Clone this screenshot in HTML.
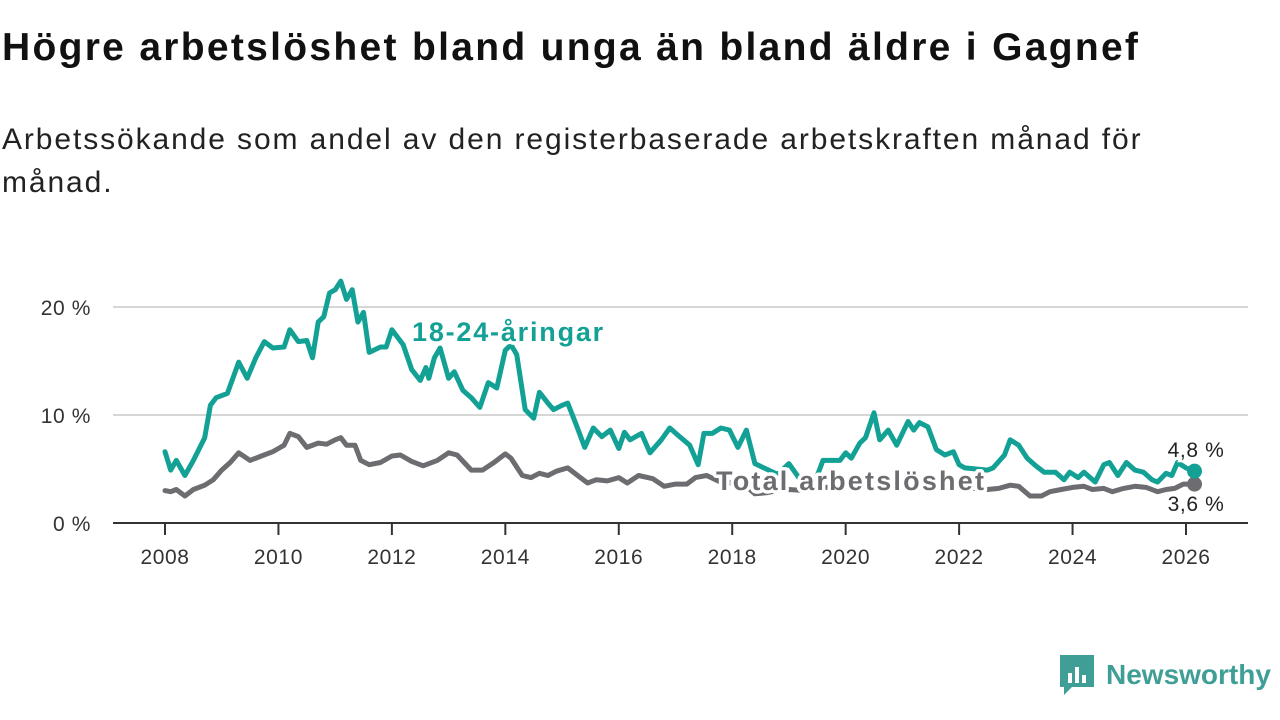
<!DOCTYPE html>
<html><head><meta charset="utf-8"><style>
body{margin:0;width:1280px;height:720px;background:#fff;font-family:"Liberation Sans",sans-serif;overflow:hidden;position:relative}
h1{position:absolute;left:2px;top:26px;margin:0;font-size:39px;font-weight:bold;color:#111;letter-spacing:2.3px;white-space:nowrap}
.sub{position:absolute;left:2px;top:118px;margin:0;font-size:30px;line-height:43px;color:#222;width:1200px;letter-spacing:1.9px}
svg{position:absolute;left:0;top:0}
</style></head><body>
<h1>Högre arbetslöshet bland unga än bland äldre i Gagnef</h1>
<p class="sub">Arbetssökande som andel av den registerbaserade arbetskraften månad för<br>månad.</p>
<svg id="chart" width="1280" height="720"></svg>
<script>
const yTicks=[0,10,20];
const xTicks=[2008,2010,2012,2014,2016,2018,2020,2022,2024,2026];
const youthT=[2008.0,2008.1,2008.2,2008.35,2008.5,2008.7,2008.8,2008.9,2009.1,2009.3,2009.45,2009.6,2009.75,2009.9,2010.1,2010.2,2010.35,2010.5,2010.6,2010.7,2010.8,2010.9,2011.0,2011.1,2011.2,2011.3,2011.4,2011.5,2011.6,2011.8,2011.9,2012.0,2012.2,2012.35,2012.5,2012.6,2012.65,2012.75,2012.85,2013.0,2013.1,2013.25,2013.4,2013.55,2013.7,2013.85,2014.0,2014.1,2014.2,2014.35,2014.5,2014.6,2014.75,2014.85,2015.0,2015.1,2015.25,2015.4,2015.55,2015.7,2015.85,2016.0,2016.1,2016.2,2016.4,2016.55,2016.75,2016.9,2017.05,2017.25,2017.4,2017.5,2017.65,2017.8,2017.95,2018.1,2018.25,2018.4,2018.6,2018.8,2019.0,2019.2,2019.4,2019.6,2019.9,2020.0,2020.1,2020.25,2020.35,2020.5,2020.6,2020.75,2020.9,2021.1,2021.2,2021.3,2021.45,2021.6,2021.75,2021.9,2022.0,2022.1,2022.3,2022.5,2022.6,2022.8,2022.9,2023.05,2023.2,2023.35,2023.5,2023.7,2023.85,2023.95,2024.1,2024.2,2024.4,2024.55,2024.65,2024.8,2024.95,2025.1,2025.25,2025.4,2025.5,2025.65,2025.75,2025.85,2026.0,2026.15];
const youthV=[6.6,4.9,5.8,4.4,5.8,7.9,10.9,11.6,12.0,14.9,13.4,15.3,16.8,16.2,16.3,17.9,16.8,16.9,15.3,18.6,19.1,21.3,21.6,22.4,20.7,21.6,18.6,19.5,15.8,16.3,16.3,17.9,16.5,14.2,13.2,14.4,13.4,15.3,16.2,13.4,14.0,12.3,11.6,10.7,13.0,12.5,16.0,16.5,15.6,10.5,9.7,12.1,11.1,10.5,10.9,11.1,9.1,7.0,8.8,8.0,8.6,6.9,8.4,7.7,8.3,6.5,7.7,8.8,8.1,7.2,5.4,8.3,8.3,8.8,8.6,7.0,8.6,5.5,5.0,4.5,5.5,4.0,3.0,5.8,5.8,6.5,6.0,7.4,7.9,10.2,7.7,8.6,7.2,9.4,8.6,9.3,8.9,6.8,6.3,6.6,5.4,5.1,5.0,4.9,5.1,6.3,7.7,7.2,6.0,5.3,4.7,4.7,4.0,4.7,4.2,4.7,3.8,5.4,5.6,4.4,5.6,4.9,4.7,4.0,3.8,4.6,4.4,5.6,5.1,4.8];
const totalT=[2008.0,2008.1,2008.2,2008.35,2008.5,2008.7,2008.85,2009.0,2009.15,2009.3,2009.5,2009.7,2009.9,2010.0,2010.1,2010.2,2010.35,2010.5,2010.7,2010.85,2011.0,2011.1,2011.2,2011.35,2011.45,2011.6,2011.8,2012.0,2012.15,2012.35,2012.55,2012.8,2013.0,2013.15,2013.4,2013.6,2013.8,2014.0,2014.1,2014.3,2014.45,2014.6,2014.75,2014.9,2015.1,2015.3,2015.45,2015.6,2015.8,2016.0,2016.15,2016.35,2016.6,2016.8,2017.0,2017.2,2017.35,2017.55,2017.75,2017.9,2018.0,2018.2,2018.4,2018.6,2018.8,2019.0,2019.3,2019.5,2020.0,2020.5,2021.0,2021.5,2022.0,2022.5,2022.7,2022.9,2023.05,2023.25,2023.45,2023.6,2023.8,2024.0,2024.2,2024.35,2024.55,2024.7,2024.9,2025.1,2025.3,2025.5,2025.65,2025.8,2025.95,2026.15];
const totalV=[3.0,2.9,3.1,2.5,3.1,3.5,4.0,4.9,5.6,6.5,5.8,6.2,6.6,6.9,7.2,8.3,8.0,7.0,7.4,7.3,7.7,7.9,7.2,7.2,5.8,5.4,5.6,6.2,6.3,5.7,5.3,5.8,6.5,6.3,4.9,4.9,5.6,6.4,6.0,4.4,4.2,4.6,4.4,4.8,5.1,4.3,3.7,4.0,3.9,4.2,3.7,4.4,4.1,3.4,3.6,3.6,4.2,4.4,3.9,3.6,3.8,3.6,2.7,2.8,3.0,3.1,3.0,3.2,3.5,4.0,3.8,3.5,3.3,3.1,3.2,3.5,3.4,2.5,2.5,2.9,3.1,3.3,3.4,3.1,3.2,2.9,3.2,3.4,3.3,2.9,3.1,3.2,3.6,3.6];
const NS="http://www.w3.org/2000/svg";
const svg=document.getElementById('chart');
const X=t=>165+(t-2008)*(1186-165)/18;
const Y=v=>523-v*10.8;
function mk(tag,at,txt){const e=document.createElementNS(NS,tag);for(const k in at)e.setAttribute(k,at[k]);if(txt!=null)e.textContent=txt;svg.appendChild(e);return e;}
yTicks.forEach(v=>{
  if(v>0){const g=mk('line',{x1:113,x2:1248,y1:Y(v),y2:Y(v),stroke:'#d6d6d6','stroke-width':2});
  
  }
  const t=mk('text',{x:91,y:Y(v)+8,'text-anchor':'end','font-size':21,fill:'#333','letter-spacing':'0.6','font-family':'Liberation Sans, sans-serif'},v+' %');
  
  
});
const ax=mk('line',{x1:113,x2:1248,y1:523,y2:523,stroke:'#333','stroke-width':2});


xTicks.forEach(yr=>{
  const tk=mk('line',{x1:X(yr),x2:X(yr),y1:523,y2:535,stroke:'#333','stroke-width':2});
  
  
  const t=mk('text',{x:X(yr),y:564,'text-anchor':'middle','font-size':21,fill:'#333','letter-spacing':'0.6','font-family':'Liberation Sans, sans-serif'},yr);
  
  
});
function line(T,V,c,name){
  const d=T.map((t,i)=>(i?'L':'M')+X(t).toFixed(1)+','+Y(V[i]).toFixed(1)).join('');
  const p=mk('path',{d:d,fill:'none',stroke:c,'stroke-width':5,'stroke-linejoin':'round','stroke-linecap':'round'});
  
  
  const n=T.length-1;
  const dot=mk('circle',{cx:X(T[n]),cy:Y(V[n]),r:7.5,fill:c});
  
  
}
line(totalT,totalV,'#6d6d71','total-line');
line(youthT,youthV,'#14a195','youth-line');
const halo={stroke:'#fff','stroke-width':7,'paint-order':'stroke','stroke-linejoin':'round','font-weight':'bold','font-size':27,'font-family':'Liberation Sans, sans-serif'};
const l1=mk('text',Object.assign({x:412,y:341,fill:'#14a195','letter-spacing':'1.8'},halo),'18-24-åringar');


const l2=mk('text',Object.assign({x:716,y:490,fill:'#6d6d71','letter-spacing':'2.2'},halo),'Total arbetslöshet');


const nY=youthV.length-1,nT=totalV.length-1;
const v1=mk('text',{x:1196,y:457,'text-anchor':'middle','font-size':21,fill:'#222',stroke:'#fff','stroke-width':5,'paint-order':'stroke','letter-spacing':'0.6','font-family':'Liberation Sans, sans-serif'},youthV[nY].toFixed(1).replace('.',',')+' %');


const v2=mk('text',{x:1196,y:511,'text-anchor':'middle','font-size':21,fill:'#222',stroke:'#fff','stroke-width':5,'paint-order':'stroke','letter-spacing':'0.6','font-family':'Liberation Sans, sans-serif'},totalV[nT].toFixed(1).replace('.',',')+' %');


</script>
<div style="position:absolute;left:1060px;top:655px;display:flex;align-items:center">
 <svg width="34" height="40" viewBox="0 0 34 40" style="position:static">
  <path d="M0 0H34V32H12L4 40V32H0Z" fill="#3f9f97"/>
  <rect x="8" y="18" width="4" height="10" fill="#fff"/><rect x="15" y="12" width="4" height="16" fill="#fff"/><rect x="22" y="20" width="4" height="8" fill="#fff"/>
 </svg>
 <span style="margin-left:12px;font-size:28px;font-weight:bold;color:#3f9f97">Newsworthy</span>
</div>
</body></html>
